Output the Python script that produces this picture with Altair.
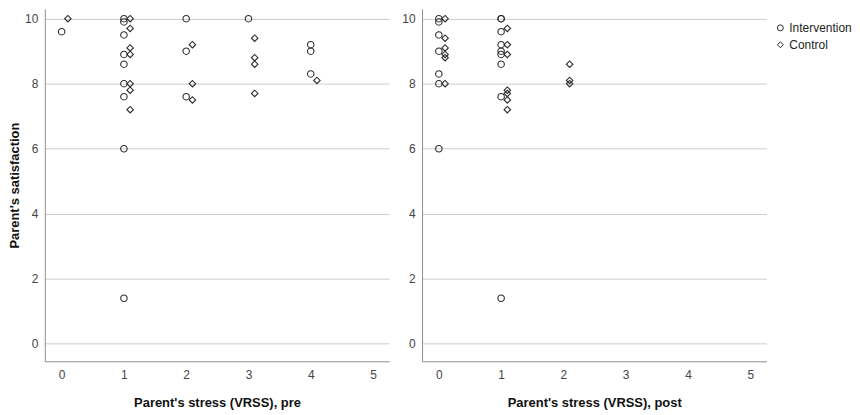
import altair as alt
import pandas as pd

# Pre panel
pre_int_x = [0, 1, 1, 1, 1, 1, 1, 1, 1, 1, 2, 2, 2, 3, 4, 4, 4]
pre_int_y = [9.6, 10, 9.9, 9.5, 8.9, 8.6, 8.0, 7.6, 6.0, 1.4, 10, 9.0, 7.6, 10, 9.2, 9.0, 8.3]
pre_ctl_x = [0, 1, 1, 1, 1, 1, 1, 1, 2, 2, 2, 3, 3, 3, 3, 4]
pre_ctl_y = [10, 10, 9.7, 9.1, 8.9, 8.0, 7.8, 7.2, 9.2, 8.0, 7.5, 9.4, 8.8, 8.6, 7.7, 8.1]
# Post panel
post_int_x = [0, 0, 0, 0, 0, 0, 0, 1, 1, 1, 1, 1, 1, 1, 1, 1]
post_int_y = [10, 9.9, 9.5, 9.0, 8.3, 8.0, 6.0, 10, 10, 9.6, 9.2, 9.0, 8.9, 8.6, 7.6, 1.4]
post_ctl_x = [0, 0, 0, 0, 0, 0, 1, 1, 1, 1, 1, 1, 1, 2, 2, 2]
post_ctl_y = [10, 9.4, 9.1, 8.9, 8.8, 8.0, 9.7, 9.2, 8.9, 7.8, 7.7, 7.5, 7.2, 8.6, 8.1, 8.0]

groups = ["Intervention", "Control"]
x_ticks = [0, 1, 2, 3, 4, 5]
y_ticks = [0, 2, 4, 6, 8, 10]

rows = []
for panel, gx, gy, g in [
    ("pre", pre_int_x, pre_int_y, "Intervention"),
    ("pre", pre_ctl_x, pre_ctl_y, "Control"),
    ("post", post_int_x, post_int_y, "Intervention"),
    ("post", post_ctl_x, post_ctl_y, "Control"),
]:
    for xv, yv in zip(gx, gy):
        rows.append({"panel": panel, "group": g, "x": xv, "y": yv})
df = pd.DataFrame(rows)

FONT = "Liberation Sans"


def make_panel(name, xtitle, ytitle):
    yaxis_kwargs = dict(
        values=y_ticks, grid=True, gridColor="#cccccc", gridWidth=1,
        domain=True, domainColor="#8c8c8c", ticks=False, tickSize=0,
        labelPadding=7, labelFontSize=12, labelColor="#444444", labelFont=FONT,
        titleFontSize=13, titleFontWeight="bold", titleColor="#111111",
        titleFont=FONT, titlePadding=3,
    )
    y_enc = alt.Y("y:Q", scale=alt.Scale(domain=[-0.54, 10.3], nice=False, zero=False),
                  axis=alt.Axis(**yaxis_kwargs),
                  title=ytitle if ytitle else None)
    return (
        alt.Chart(df)
        .transform_filter(alt.datum.panel == name)
        .transform_calculate(xp="datum.x + (datum.group == 'Control' ? 0.1 : 0)")
        .mark_point(filled=False, size=42, strokeWidth=1.1, color="#2a2a2a", opacity=1)
        .encode(
            x=alt.X("xp:Q", scale=alt.Scale(domain=[-0.27, 5.26], nice=False, zero=False),
                    axis=alt.Axis(values=x_ticks, grid=False, domain=True, domainColor="#8c8c8c",
                                  ticks=False, tickSize=0, labelPadding=8, labelFontSize=12,
                                  labelColor="#444444", labelFont=FONT, titleFontSize=13,
                                  titleFontWeight="bold", titleColor="#111111", titleFont=FONT,
                                  titlePadding=16),
                    title=xtitle),
            y=y_enc,
            shape=alt.Shape("group:N",
                            scale=alt.Scale(domain=groups, range=["circle", "diamond"]),
                            legend=alt.Legend(title=None, orient="none", legendX=733, legendY=13,
                                              padding=0,
                                              symbolSize=36, symbolStrokeColor="#2a2a2a",
                                              symbolStrokeWidth=1, labelFontSize=12,
                                              labelFont=FONT, labelColor="#222222",
                                              rowPadding=5, labelOffset=3)),
        )
        .properties(width=346, height=354)
    )


left = make_panel("pre", "Parent's stress (VRSS), pre", "Parent's satisfaction")
right = make_panel("post", "Parent's stress (VRSS), post", None)

chart = (
    alt.hconcat(left, right, spacing=12)
    .properties(padding={"left": 0, "top": 0, "right": 0, "bottom": 0})
    .configure(font=FONT)
    .configure_view(strokeWidth=0)
)

chart.save("out.html", embed_options={"renderer": "svg", "actions": False})
